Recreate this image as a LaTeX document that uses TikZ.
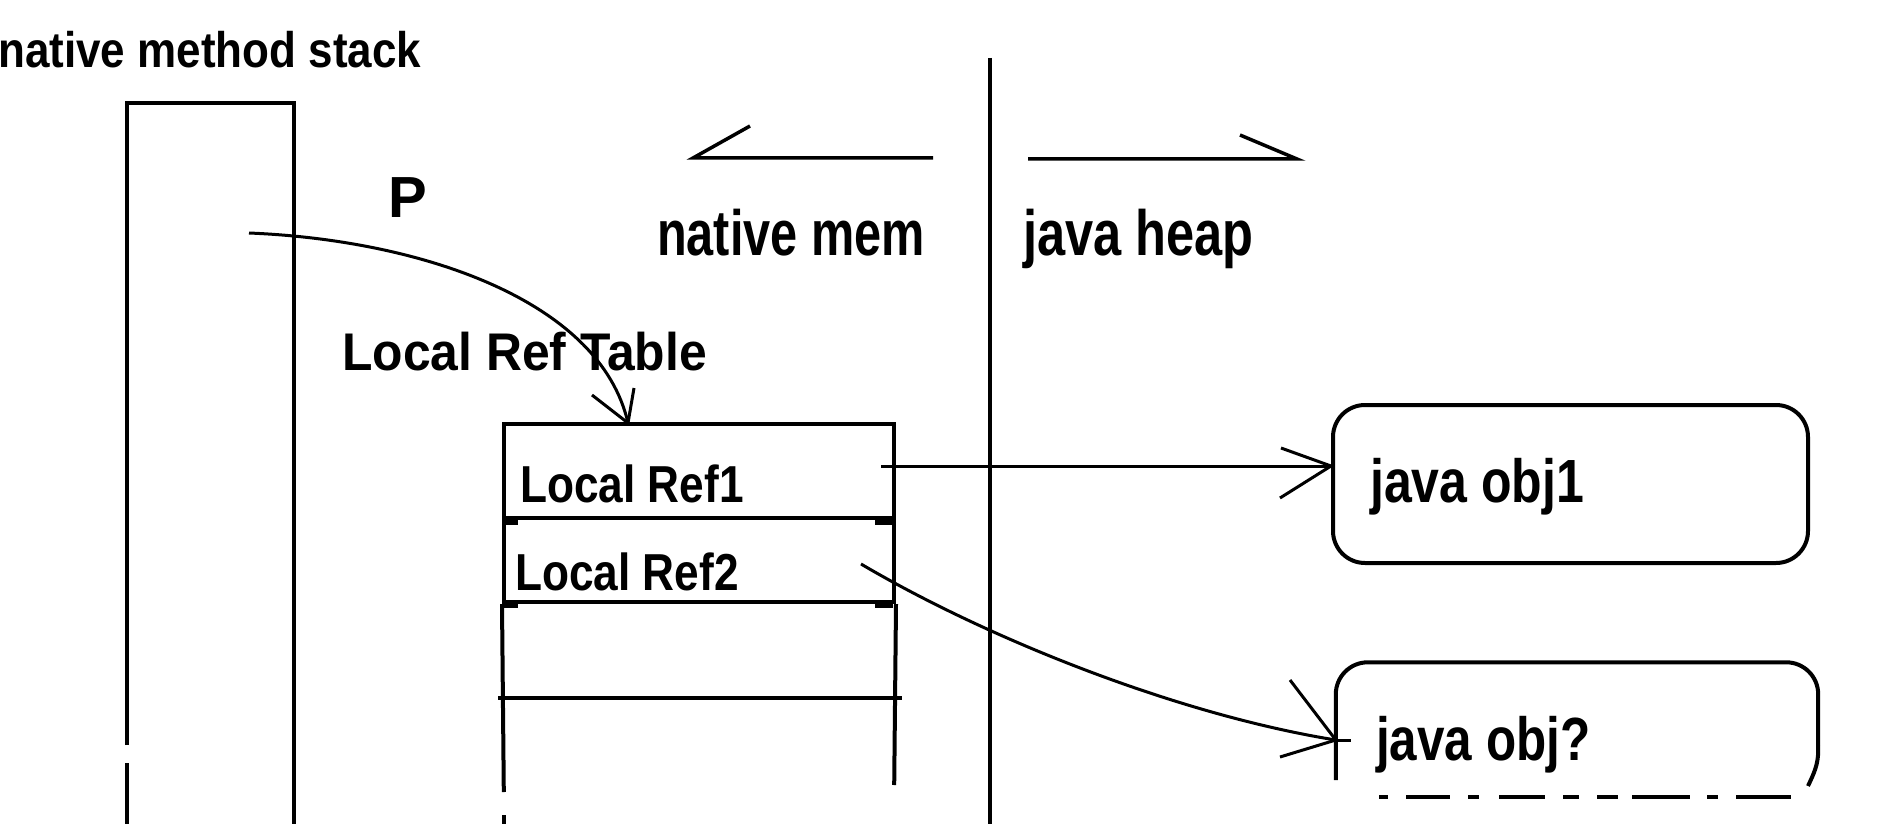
\documentclass[tikz,border=0pt]{standalone}
\usepackage{fontspec}
\setmainfont{Liberation Sans}
\usepackage{graphicx}
\newcommand\lbl[3]{\scalebox{#2}[1]{\fontsize{#1}{#1}\selectfont\bfseries #3}}
\begin{document}
\begin{tikzpicture}[x=1pt,y=-1pt,
  box/.style={line width=4pt,draw=black},
  conn/.style={line width=3pt,draw=black},
  txt/.style={inner sep=0pt,anchor=base west},
  area/.style={draw=none,inner sep=0pt,minimum width=#1},
  tick/.style={fill=black,draw=none}]
\useasboundingbox (0,0) rectangle (1880,824);
\fill[white] (0,0) rectangle (1880,824);

% native method stack
\node[txt] (tstack) at (-2,68) {\lbl{50}{0.88}{native method stack}};
\node[area=167,minimum height=721] (stack) at (210.5,463.5) {};
\draw[box] (stack.south west |- 0,745) -- (stack.north west) -- (stack.north east) -- (stack.south east);
\draw[box] (stack.south west |- 0,763) -- (stack.south west);

% divider and direction arrows
\coordinate (dtop) at (990,58);
\coordinate (dbot) at (990,824);
\draw[line width=3.5pt] (dtop) -- (dbot);
\coordinate (la1) at (933,158); \coordinate (la2) at (693,158);
\coordinate (ra1) at (1028,159); \coordinate (ra2) at (1297,159);
\draw[conn,line width=3.5pt] (la1) -- (la2) -- (750,126);
\draw[conn,line width=3.5pt] (ra1) -- (ra2) -- (1240,135);
\node[txt] (tnm) at (657,255) {\lbl{64}{0.76}{native mem}};
\node[txt] (tjh) at (1023,255) {\lbl{64}{0.79}{java heap}};

% P pointer
\node[txt] (tp) at (388,217) {\lbl{58}{1}{P}};
\node[txt] (tlrt) at (342,370) {\lbl{53}{0.94}{Local Ref Table}};

% local ref table
\node[area=390,minimum height=400] (tbl) at (699,624) {};
\node[box,inner sep=0pt,minimum width=390,minimum height=94] (ref1) at (699,471) {};
\node[box,inner sep=0pt,minimum width=390,minimum height=84] (ref2) at (699,560) {};
\draw[box] (ref2.south west) -- (tbl.west |- 0,792);
\draw[box] (tbl.west |- 0,815) -- (tbl.south west);
\draw[box] (ref2.south east) -- (tbl.east |- 0,785);
\draw[box] (498,698) -- (902,698);
\fill[tick] (503,519) rectangle (518,525);
\fill[tick] (875,518) rectangle (893,525);
\fill[tick] (503,603) rectangle (518,608);
\fill[tick] (875,602) rectangle (893,608);
\node[txt] (tr1) at (520,502) {\lbl{52}{0.85}{Local Ref1}};
\node[txt] (tr2) at (515,590) {\lbl{52}{0.85}{Local Ref2}};

% java objects
\node[box,inner sep=0pt,minimum width=475,minimum height=158,rounded corners=32] (obj1) at (1570.5,484) {};
\node[txt] (to1) at (1370,502) {\lbl{61}{0.82}{java obj1}};
\node[area=482,minimum height=135] (obj2) at (1577,730) {};
\draw[box,rounded corners=32] (obj2.west |- 0,780) -- (obj2.north west) -- (obj2.north east) -- (obj2.east |- 0,745);
\draw[box] (obj2.east |- 0,745) to[out=90,in=90,looseness=0] (obj2.east |- 0,750) to[out=-90,in=65] (1808,786);
\draw[line width=3.5pt,dash pattern=on 9pt off 18pt on 44pt off 18pt on 11pt off 20pt on 46pt off 18pt on 16pt off 18pt on 21pt off 14pt on 58pt off 17pt on 11pt off 18pt on 55pt off 30pt]
  (1379,797) -- (1791,797);
\node[txt] (to2) at (1376,760) {\lbl{61}{0.81}{java obj?}};

% connectors
\coordinate (pstart) at (249,233);
\coordinate (ptip) at (628,423);
\draw[conn] (pstart) .. controls (420,240) and (600,300) .. (ptip);
\draw[conn] (592,395) -- (ptip) -- (634,388);

\coordinate (r1out) at (881,466);
\coordinate (o1in) at (obj1.west |- r1out);
\draw[conn] (r1out) -- (o1in);
\draw[conn] (1281,448) -- (o1in) -- (1280,498);

\coordinate (r2out) at (861,564);
\coordinate (o2in) at (obj2.west |- 0,740);
\draw[conn] (r2out) .. controls (990,640) and (1180,715) .. (o2in);
\draw[conn] (1290,680) -- (o2in) -- (1280,757);
\draw[conn] (o2in) -- ++(15,0);
\end{tikzpicture}
\end{document}
